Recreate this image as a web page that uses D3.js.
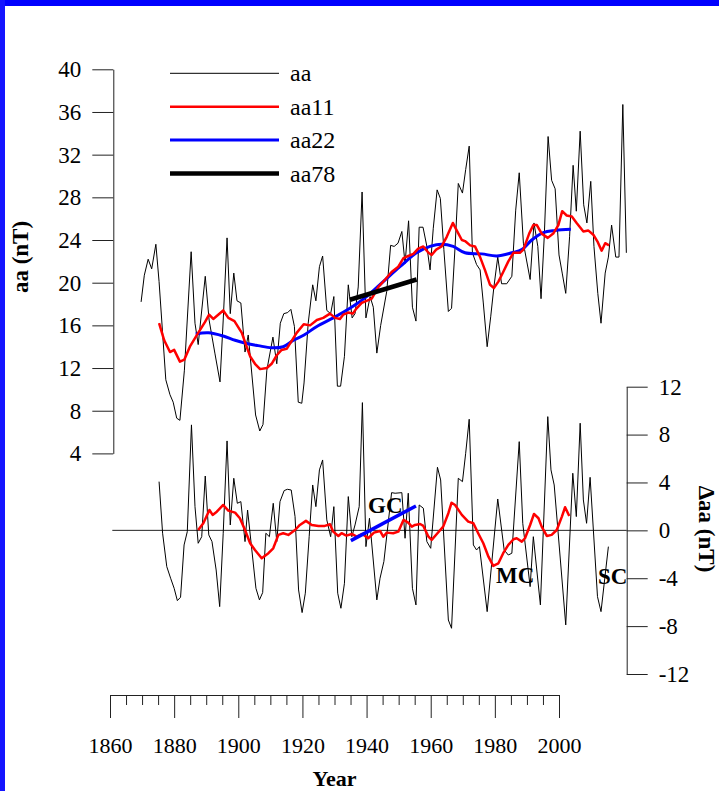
<!DOCTYPE html>
<html>
<head>
<meta charset="utf-8">
<script src="https://cdn.jsdelivr.net/npm/d3@7"></script>
<style>
  body { margin: 0; background: #fff; }
  svg { display: block; }
  text { font-family: "Liberation Serif", "Times New Roman", serif; }
</style>
</head>
<body>
<div id="my_chart"></div>
<script>
// ---- data (x in axis years, y in nT) ----
const aaYears = [1869.7, 1870.7, 1871.9, 1873.0, 1874.3, 1875.3, 1877.4, 1878.7, 1879.7, 1880.8,
  1881.8, 1883.2, 1885.3, 1886.5, 1887.5, 1889.7, 1890.9, 1892.7, 1894.3, 1895.3,
  1896.5, 1897.5, 1898.6, 1899.6, 1900.8, 1902.1, 1903.1, 1905.4, 1906.7, 1907.7,
  1908.9, 1910.8, 1912.0, 1913.1, 1914.2, 1915.4, 1916.4, 1917.5, 1918.7, 1919.8,
  1920.5, 1921.8, 1923.2, 1924.2, 1925.3, 1926.3, 1927.6, 1928.8, 1929.8, 1930.9,
  1931.9, 1933.1, 1934.3, 1935.5, 1936.4, 1937.4, 1938.6, 1939.8, 1941.1, 1942.1,
  1943.2, 1944.4, 1946.3, 1947.5, 1948.6, 1949.8, 1951.0, 1952.0, 1953.1, 1954.3,
  1955.4, 1956.4, 1957.6, 1958.8, 1959.8, 1960.8, 1962.0, 1963.0, 1964.1, 1965.5,
  1966.5, 1967.6, 1968.6, 1969.9, 1970.9, 1972.0, 1973.0, 1974.3, 1975.4, 1976.4,
  1977.6, 1978.7, 1979.7, 1980.9, 1982.1, 1983.7, 1985.3, 1986.5, 1987.6, 1988.9,
  1991.0, 1992.2, 1993.4, 1994.4, 1995.4, 1996.6, 1997.7, 1998.8, 2000.0, 2001.0,
  2002.1, 2003.3, 2004.4, 2005.4, 2006.6, 2007.7, 2008.7, 2009.9, 2010.9, 2012.1,
  2013.1, 2014.4, 2015.4, 2016.4, 2017.7, 2018.7, 2019.9, 2021.0];
const aaValues = [18.2, 20.7, 22.2, 21.3, 23.6, 20.1, 10.9, 9.5, 8.8, 7.3,
  7.1, 11.8, 22.9, 16.2, 14.2, 20.6, 16.5, 13.4, 10.7, 16.5,
  24.2, 17.1, 20.9, 18.3, 18.1, 13.5, 15.1, 7.6, 6.1, 6.7,
  11.8, 14.9, 12.4, 16.2, 17.1, 17.2, 17.5, 15.9, 8.8, 8.7,
  10.6, 16.2, 19.8, 18.3, 21.5, 22.5, 17.4, 17.1, 18.7, 10.3,
  10.3, 13.1, 19.8, 16.7, 17.1, 19.6, 28.5, 16.7, 18.7, 17.7,
  13.4, 16.0, 19.2, 23.5, 23.4, 23.7, 24.8, 21.8, 25.8, 17.7,
  16.4, 25.2, 25.2, 23.4, 21.2, 25.1, 28.7, 27.9, 23.1, 17.3,
  17.6, 23.4, 29.3, 28.4, 30.6, 32.8, 22.8, 21.7, 21.2, 18.1,
  14.0, 16.8, 19.6, 22.4, 19.9, 19.9, 20.6, 26.8, 30.3, 23.7,
  20.3, 25.6, 23.4, 18.5, 24.3, 33.7, 29.6, 28.8, 22.6, 20.9,
  19.0, 24.3, 31.0, 26.7, 34.2, 27.3, 25.6, 29.5, 23.4, 19.0,
  16.2, 20.9, 22.4, 25.4, 22.4, 22.4, 36.7, 22.8];

const aa11Years = [1875.3, 1876.9, 1878.7, 1880.0, 1881.8, 1883.2, 1884.9, 1887.5, 1889.6, 1890.9,
  1892.2, 1895.3, 1896.9, 1898.8, 1901.1, 1902.6, 1903.7, 1905.2, 1906.8, 1908.9,
  1910.4, 1912.0, 1913.5, 1915.1, 1918.2, 1920.4, 1922.4, 1924.5, 1926.5, 1928.6,
  1930.2, 1931.7, 1932.7, 1934.3, 1935.7, 1936.9, 1938.5, 1940.0, 1941.6, 1943.7,
  1945.8, 1947.8, 1949.9, 1951.5, 1953.0, 1954.6, 1956.1, 1957.7, 1959.3, 1960.3,
  1961.7, 1963.4, 1965.0, 1966.9, 1968.1, 1969.7, 1970.7, 1972.3, 1973.8, 1975.4,
  1976.9, 1978.5, 1979.7, 1981.1, 1982.6, 1984.2, 1985.8, 1987.8, 1988.9, 1990.7,
  1992.0, 1993.1, 1994.6, 1996.5, 1998.2, 1999.8, 2001.0, 2002.4, 2004.0, 2005.5,
  2007.6, 2009.1, 2010.7, 2012.1, 2013.3, 2014.4, 2015.6];
const aa11Values = [16.2, 14.6, 13.5, 13.7, 12.6, 12.8, 14.0, 15.3, 16.3, 17.0,
  16.6, 17.4, 16.7, 16.4, 15.3, 14.0, 13.1, 12.4, 11.9, 12.0,
  12.4, 13.2, 13.7, 13.8, 15.3, 16.1, 16.0, 16.5, 16.7, 17.1,
  16.7, 16.6, 17.0, 17.2, 17.1, 17.6, 18.1, 18.3, 18.5, 19.6,
  20.3, 21.0, 21.5, 22.3, 22.5, 22.7, 23.2, 23.4, 22.8, 22.6,
  23.1, 23.4, 24.3, 25.6, 24.9, 24.0, 23.9, 23.5, 23.4, 22.4,
  21.2, 19.8, 19.5, 20.1, 21.0, 22.0, 22.8, 22.8, 23.1, 24.6,
  25.4, 25.4, 24.6, 24.2, 24.6, 25.4, 26.7, 26.3, 26.2, 25.6,
  24.8, 24.9, 24.5, 23.8, 23.0, 23.7, 23.5];

const aa22Years = [1886.7, 1890.7, 1895.3, 1899.0, 1902.6, 1906.2, 1910.4, 1914.0, 1917.2, 1920.5,
  1924.5, 1929.6, 1934.8, 1940.0, 1945.2, 1950.4, 1955.6, 1959.8, 1963.4, 1967.0,
  1970.7, 1975.9, 1980.6, 1985.3, 1988.4, 1991.5, 1995.1, 1998.8, 2003.7];
const aa22Values = [15.2, 15.3, 15.0, 14.6, 14.3, 14.1, 13.9, 14.0, 14.6, 15.1,
  15.9, 16.7, 17.6, 18.7, 20.1, 21.5, 22.8, 23.4, 23.6, 23.4,
  22.8, 22.7, 22.5, 22.8, 23.1, 24.0, 24.7, 24.9, 25.0];

const aa78Years = [1934.8, 1955.6];
const aa78Values = [18.4, 20.3];

// lower panel: deviations
const dAaYears = [1875.3, 1876.4, 1877.7, 1878.9, 1880.0, 1881.0, 1882.0, 1883.1, 1884.1, 1885.4,
  1886.5, 1887.5, 1888.6, 1889.7, 1890.8, 1891.8, 1893.1, 1894.2, 1895.3, 1896.5,
  1897.5, 1898.6, 1899.7, 1900.8, 1902.1, 1902.9, 1905.5, 1906.6, 1907.6, 1908.6,
  1909.7, 1910.9, 1912.0, 1913.0, 1914.3, 1915.3, 1916.5, 1917.7, 1918.8, 1919.9,
  1920.9, 1922.1, 1923.2, 1924.2, 1925.3, 1926.3, 1927.6, 1928.8, 1929.8, 1931.0,
  1932.0, 1933.1, 1934.3, 1935.4, 1936.4, 1937.7, 1938.7, 1939.8, 1940.9, 1943.2,
  1944.2, 1945.4, 1947.8, 1948.9, 1951.0, 1952.0, 1953.0, 1954.3, 1955.4, 1956.4,
  1957.7, 1958.8, 1960.0, 1962.1, 1963.1, 1965.5, 1966.5, 1968.6, 1969.9, 1970.9,
  1972.0, 1973.3, 1974.3, 1975.2, 1977.6, 1980.9, 1982.9, 1984.2, 1985.3, 1987.6,
  1988.7, 1991.0, 1992.0, 1994.2, 1996.5, 1997.5, 1998.5, 2002.1, 2004.3, 2005.4,
  2006.6, 2007.6, 2008.6, 2009.7, 2012.0, 2013.1, 2015.4];
const dAaValues = [4.07, -0.24, -3.03, -4.0, -4.84, -5.87, -5.59, -1.22, -0.11, 8.81,
  1.98, -1.08, -0.53, 4.54, -0.38, -0.94, -3.31, -6.37, -0.24, 7.47,
  0.45, 4.35, 2.26, 2.40, -0.94, 1.70, -4.84, -5.81, -5.2, -0.24,
  -0.53, 2.26, -0.94, 2.40, 3.32, 3.43, 3.37, 1.15, -4.98, -6.87,
  -5.25, -0.53, 3.79, 1.98, 5.05, 5.88, 0.87, -0.53, 1.98, -5.25,
  -6.51, -4.42, 2.82, -0.53, 0.45, 1.98, 10.67, -1.36, 1.01, -5.81,
  -4.0, -2.6, 3.15, 3.10, 3.15, -0.66, 3.10, -4.84, -6.23, 2.12,
  1.85, -0.94, -1.5, 5.27, 4.21, -7.49, -8.18, 4.35, 4.07, 6.44,
  9.28, -1.22, -1.64, -1.36, -6.79, 2.62, -1.64, -2.06, -1.91, 7.41,
  0.59, -4.70, -0.53, -6.23, 9.50, 5.05, 3.79, -7.9, 4.77, 1.15,
  8.95, 2.54, 0.59, 4.43, -5.54, -6.79, -1.36];

const dAa11Years = [1887.5, 1889.1, 1891.0, 1892.0, 1893.3, 1895.3, 1896.9, 1899.0, 1900.5, 1902.1,
  1903.7, 1905.2, 1907.3, 1909.4, 1910.9, 1912.5, 1914.0, 1915.6, 1917.7, 1919.2,
  1921.1, 1922.9, 1925.0, 1927.0, 1928.6, 1929.6, 1931.2, 1932.2, 1933.7, 1935.4,
  1936.9, 1938.7, 1940.5, 1942.3, 1944.2, 1945.2, 1946.3, 1948.3, 1949.9, 1951.5,
  1953.0, 1954.1, 1955.1, 1956.7, 1957.7, 1959.3, 1960.3, 1961.9, 1963.9, 1965.5,
  1966.5, 1967.6, 1969.7, 1971.7, 1973.3, 1974.8, 1976.4, 1978.0, 1979.5, 1981.1,
  1982.6, 1984.2, 1985.8, 1986.8, 1988.4, 1989.4, 1991.0, 1992.2, 1993.6, 1994.6,
  1996.2, 1997.7, 1999.3, 2000.9, 2001.9, 2003.2];
const dAa11Values = [0.03, 0.59, 1.70, 1.29, 1.56, 2.12, 1.65, 1.48, 1.01, 0.03,
  -1.08, -1.64, -2.33, -1.91, -1.5, -0.38, -0.24, -0.38, 0.03, 0.45,
  0.79, 0.45, 0.37, 0.37, 0.51, -0.11, -0.47, -0.24, -0.44, -0.3,
  -0.53, -0.3, -0.66, -0.19, -0.05, -0.53, -0.19, -0.24, -0.11, 0.87,
  0.64, 0.31, 0.45, 0.53, 0.37, -0.53, -0.8, -0.3, 0.31, 1.43,
  2.31, 2.12, 1.29, 0.73, 0.59, -0.24, -1.08, -2.2, -2.97, -2.75,
  -1.91, -1.22, -0.74, -0.66, -0.94, -0.66, 0.45, 1.37, 1.01, 0.31,
  -0.47, -0.38, 0.03, 1.15, 1.93, 1.2];

const gcYears = [1935.1, 1955.4];
const gcValues = [-0.86, 2.04];

const topTicks = [4, 8, 12, 16, 20, 24, 28, 32, 36, 40];
const bottomTicks = [-12, -8, -4, 0, 4, 8, 12];
const yearTicks = d3.range(1860, 2001, 5);
const yearLabels = [1860, 1880, 1900, 1920, 1940, 1960, 1980, 2000];
const legendNames = ["aa", "aa11", "aa22", "aa78"];

// ---- chart ----
const width = 719, height = 791;
const serif = '"Liberation Serif", "Times New Roman", serif';

const svg = d3
  .select("#my_chart")
  .append("svg")
  .attr("width", width)
  .attr("height", height);

// blue frame on the top and the left
svg.append("rect").attr("x", 0).attr("y", 0).attr("width", width).attr("height", 6).style("fill", "#0000ff");
svg.append("rect").attr("x", 0).attr("y", 0).attr("width", 5).attr("height", height).style("fill", "#1414ff");

const x = d3.scaleLinear().domain([1860, 2000]).range([110, 559]);
const yTop = d3.scaleLinear().domain([4, 40]).range([453.4, 69.3]);
const yBot = d3.scaleLinear().domain([-12, 12]).range([674, 386.7]);

const leftX = 113.3, rightX = 626.7, axisY = 695;

// left axis (aa)
const yAxisL = svg
  .append("g")
  .attr("transform", `translate(${leftX},0)`)
  .call(d3.axisLeft(yTop).tickValues(topTicks).tickSize(21).tickSizeOuter(0).tickPadding(11));

// right axis (delta aa)
const yAxisR = svg
  .append("g")
  .attr("transform", `translate(${rightX},0)`)
  .call(
    d3.axisRight(yBot).tickValues(bottomTicks).tickSize(21).tickSizeOuter(0).tickPadding(11)
      .tickFormat((d) => String(d))
  );

// bottom axis (years)
const xAxis = svg
  .append("g")
  .attr("transform", `translate(0,${axisY})`)
  .call(
    d3.axisBottom(x).tickValues(yearTicks).tickSize(10).tickSizeOuter(0)
      .tickFormat((d) => (yearLabels.includes(d) ? String(d) : ""))
  );
xAxis.selectAll(".tick")
  .filter((d) => yearLabels.includes(d))
  .select("line")
  .attr("y2", 23);
xAxis.selectAll(".tick text").attr("y", 42);

[yAxisL, yAxisR, xAxis].forEach((g) => g.attr("font-family", null).attr("font-size", null));
yAxisL.selectAll("text").style("font-family", serif).style("font-size", "23px");
yAxisR.selectAll("text").style("font-family", serif).style("font-size", "23px");
xAxis.selectAll("text").style("font-family", serif).style("font-size", "22px");

svg.selectAll(".domain, .tick line").attr("stroke", "#222");

// zero line of the lower panel
svg.append("line")
  .attr("x1", leftX - 1).attr("x2", rightX)
  .attr("y1", yBot(0)).attr("y2", yBot(0))
  .attr("stroke", "#222").attr("stroke-width", 1);

function drawLine(years, values, yScale, color, w, curve) {
  svg.append("path")
    .datum(d3.zip(years, values))
    .attr("d", d3.line().x((d) => x(d[0])).y((d) => yScale(d[1])).curve(curve || d3.curveLinear))
    .attr("fill", "none")
    .attr("stroke", color)
    .attr("stroke-width", w)
    .attr("stroke-linejoin", "round");
}

// upper panel
drawLine(aaYears, aaValues, yTop, "#000", 1);
drawLine(aa22Years, aa22Values, yTop, "#0000ff", 3, d3.curveCatmullRom);
drawLine(aa11Years, aa11Values, yTop, "#ff0000", 2.5);
drawLine(aa78Years, aa78Values, yTop, "#000", 4.5);

// lower panel
drawLine(dAaYears, dAaValues, yBot, "#000", 1);
drawLine(dAa11Years, dAa11Values, yBot, "#ff0000", 2.5);
drawLine(gcYears, gcValues, yBot, "#0000ff", 3.5);

// handmade legend
const legendColors = ["#000", "#ff0000", "#0000ff", "#000"];
const legendWidths = [1, 2.5, 3, 4.5];
for (let i = 0; i < legendNames.length; i++) {
  const ly = 73.3 + 33.4 * i;
  svg.append("line")
    .attr("x1", 170).attr("x2", 279)
    .attr("y1", ly).attr("y2", ly)
    .attr("stroke", legendColors[i])
    .attr("stroke-width", legendWidths[i]);
  svg.append("text")
    .attr("x", 290).attr("y", ly + 8)
    .text(legendNames[i])
    .style("font-family", serif)
    .style("font-size", "24px");
}

// cycle labels
const cycleLabels = [
  { t: "GC", x: 368, y: 513 },
  { t: "MC", x: 496, y: 583 },
  { t: "SC", x: 598, y: 584 },
];
cycleLabels.forEach((c) => {
  svg.append("text")
    .attr("x", c.x).attr("y", c.y)
    .text(c.t)
    .style("font-family", serif)
    .style("font-weight", "bold")
    .style("font-size", "23px");
});

// axis titles
svg.append("text")
  .attr("transform", "translate(28,257) rotate(-90)")
  .attr("text-anchor", "middle")
  .text("aa (nT)")
  .style("font-family", serif)
  .style("font-weight", "bold")
  .style("font-size", "23px");

svg.append("text")
  .attr("transform", "translate(699,529) rotate(90)")
  .attr("text-anchor", "middle")
  .text("Δaa (nT)")
  .style("font-family", serif)
  .style("font-weight", "bold")
  .style("font-size", "23px");

svg.append("text")
  .attr("x", (x(1860) + x(2000)) / 2)
  .attr("y", 786)
  .attr("text-anchor", "middle")
  .text("Year")
  .style("font-family", serif)
  .style("font-weight", "bold")
  .style("font-size", "22px");
</script>
</body>
</html>
